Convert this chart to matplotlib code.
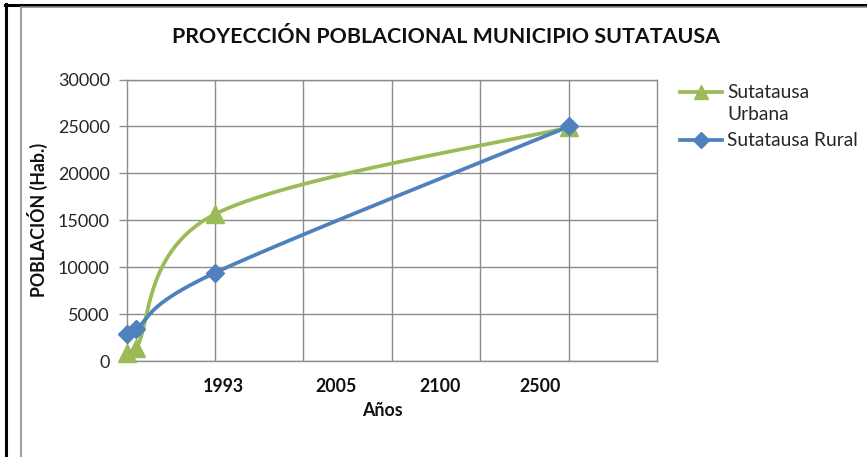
import numpy as np
import matplotlib
matplotlib.use("Agg")
import matplotlib.pyplot as plt
from matplotlib.lines import Line2D

plt.rcParams['font.family'] = ['Lato', 'DejaVu Sans']

# datos (posicion en el eje x, poblacion)
x_pos = [0.0, 0.11, 1.0, 5.0]
urbana = [800, 1350, 15650, 24900]
rural = [2900, 3450, 9400, 25000]
anios = ['1993', '2005', '2100', '2500']
anios_px = [223, 336, 440, 540]   # centro de cada etiqueta en pixeles
yticks = [0, 5000, 10000, 15000, 20000, 25000, 30000]

VERDE = '#9BBB59'
AZUL = '#4F81BD'
W, H = 867, 457


def suavizar(ax, xs, ys, n=60):
    # curva tipo excel (bezier con puntos de control catmull-rom), en pixeles
    pts = ax.transData.transform(np.column_stack([xs, ys]))
    ext = np.vstack([pts[0], pts, pts[-1]])
    out = []
    for i in range(1, len(ext) - 2):
        p0, p1, p2, p3 = ext[i - 1], ext[i], ext[i + 1], ext[i + 2]
        c1 = p1 + (p2 - p0) / 6.0
        c2 = p2 - (p3 - p1) / 6.0
        t = np.linspace(0, 1, n)[:, None]
        seg = (1 - t)**3 * p1 + 3 * (1 - t)**2 * t * c1 + 3 * (1 - t) * t**2 * c2 + t**3 * p2
        out.append(seg)
    curva = np.vstack(out)
    return ax.transData.inverted().transform(curva).T


fig = plt.figure(figsize=(W / 100, H / 100), dpi=100)
ax = fig.add_axes([126.5 / W, 1 - 361 / H, 531 / W, 281.5 / H])
ax.set_xlim(0, 6)
ax.set_ylim(0, 30000)
ax.set_xticks([1, 2, 3, 4, 5])
ax.set_yticks(yticks)
ax.set_xticklabels([])
ax.tick_params(axis='x', length=0)
ax.tick_params(axis='y', direction='out', length=6, width=1, color='#8c8c8c',
               labelsize=13, labelcolor='#262626', pad=6)
ax.grid(True, color='#8c8c8c', linewidth=1)
ax.set_axisbelow(True)
for s in ax.spines.values():
    s.set_color('#8c8c8c')
    s.set_linewidth(1)

cx, cy = suavizar(ax, x_pos, urbana)
ax.plot(cx, cy, color=VERDE, lw=2.7, clip_on=False, zorder=3)
ax.plot(x_pos, urbana, ls='none', marker='^', ms=12.5, color=VERDE, clip_on=False, zorder=4)

cx, cy = suavizar(ax, x_pos, rural)
ax.plot(cx, cy, color=AZUL, lw=2.7, clip_on=False, zorder=3)
ax.plot(x_pos, rural, ls='none', marker='D', ms=9.5, color=AZUL, clip_on=False, zorder=4)

fig.text(446 / W, 1 - 37 / H, 'PROYECCIÓN POBLACIONAL MUNICIPIO SUTATAUSA',
         ha='center', va='center', fontsize=15.4, fontweight='bold', color='#111111')
fig.text(37 / W, 1 - 220 / H, 'POBLACIÓN (Hab.)', rotation=90, ha='center', va='center',
         fontsize=12.8, fontweight='bold', color='#111111')
fig.text(382 / W, 1 - 411 / H, 'Años', ha='center', va='center',
         fontsize=12.8, fontweight='bold', color='#111111')
for lab, px in zip(anios, anios_px):
    fig.text(px / W, 1 - 386 / H, lab, ha='center', va='center',
             fontsize=12.8, fontweight='bold', color='#111111')

# leyenda
for yy, col, mk, ms in [(92, VERDE, '^', 10), (140, AZUL, 'D', 8)]:
    fig.add_artist(Line2D([680 / W, 722 / W], [1 - yy / H, 1 - yy / H], color=col, lw=2.7))
    fig.add_artist(Line2D([701 / W], [1 - yy / H], color=col, marker=mk, ms=ms, ls='none'))
fig.text(727 / W, 1 - 92 / H, 'Sutatausa', va='center', fontsize=13.8, color='#262626')
fig.text(727 / W, 1 - 115 / H, 'Urbana', va='center', fontsize=13.8, color='#262626')
fig.text(727 / W, 1 - 140 / H, 'Sutatausa Rural', va='center', fontsize=13.8, color='#262626')

# marco
fig.add_artist(Line2D([5 / W, 1], [1 - 4.5 / H, 1 - 4.5 / H], color='black', lw=2.2))
fig.add_artist(Line2D([6 / W, 6 / W], [0, 1 - 3.5 / H], color='black', lw=2.2))
fig.add_artist(Line2D([20.5 / W, 1], [1 - 6.5 / H, 1 - 6.5 / H], color='#8c8c8c', lw=1.2))
fig.add_artist(Line2D([20.5 / W, 20.5 / W], [0, 1 - 6.5 / H], color='#8c8c8c', lw=1.2))

fig.savefig('out.png', dpi=100)
